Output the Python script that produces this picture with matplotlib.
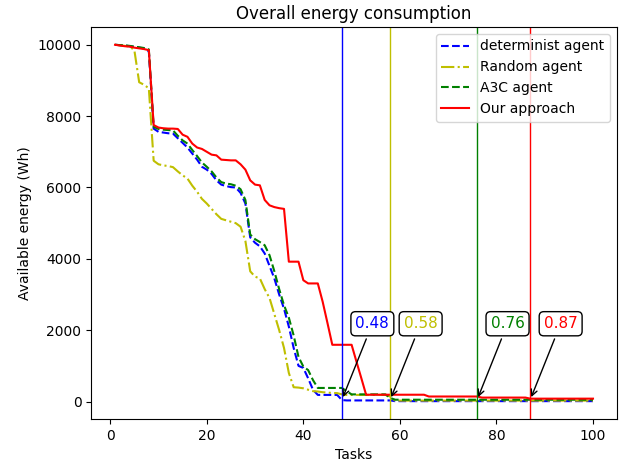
import matplotlib
matplotlib.use("Agg")
import matplotlib.pyplot as plt
import numpy as np

tasks = list(range(1, 101))

determinist = [10000, 9990, 9980, 9960, 9940, 9920, 9900, 9820, 7650, 7560,
               7540, 7520, 7510, 7380, 7250, 7120, 6950, 6780, 6580, 6500,
               6380, 6200, 6080, 6040, 6010, 6000, 5850, 5550, 4600, 4450,
               4350, 4150, 3800, 3450, 3000, 2600, 2100, 1500, 1000, 940,
               650, 330, 185, 185, 185, 185, 185, 40, 30, 30,
               30, 30, 30, 30, 30, 30, 30, 30] + [10] * 42

random_agent = [10000, 9990, 9970, 9950, 9850, 8950, 8880, 8780, 6750, 6650,
                6620, 6600, 6570, 6450, 6340, 6250, 6050, 5880, 5680, 5550,
                5400, 5250, 5120, 5080, 5040, 5000, 4900, 4500, 3650, 3500,
                3450, 3150, 2900, 2450, 2000, 1500, 800, 400, 390, 370,
                330, 290, 280, 260, 250, 240, 235, 200, 185, 185,
                185, 185, 185, 185, 185, 185, 185, 140] + [25] * 42

a3c_agent = [10000, 9990, 9985, 9970, 9950, 9930, 9910, 9870, 7700, 7640,
             7620, 7610, 7600, 7450, 7320, 7230, 7050, 6880, 6700, 6580,
             6450, 6280, 6150, 6110, 6090, 6050, 5950, 5650, 4680, 4550,
             4470, 4380, 4100, 3650, 3150, 2700, 2350, 1850, 1250, 980,
             880, 600, 380, 380, 380, 380, 380, 380, 285, 200,
             200, 200, 200, 200, 200, 200, 200, 100] + [50] * 42

our_approach = [10000, 9980, 9960, 9950, 9920, 9900, 9880, 9850, 7750, 7680,
                7660, 7650, 7650, 7640, 7480, 7420, 7230, 7120, 7080, 7000,
                6920, 6900, 6780, 6770, 6760, 6760, 6650, 6500, 6200, 6080,
                6060, 5650, 5500, 5450, 5420, 5400, 3920, 3920, 3920, 3400,
                3310, 3310, 3310, 2800, 2200, 1590, 1590, 1590, 1590, 1590,
                1120, 660, 190, 190, 190, 190, 190, 190, 190, 190,
                190, 190, 190, 190, 190] + [140] * 11 + [110] * 10 + [80] * 14

marks_x = [48, 58, 76, 87]
marks_label = ["0.48", "0.58", "0.76", "0.87"]
marks_color = ["b", "y", "g", "r"]

fig = plt.figure(figsize=(6.2, 4.65), dpi=100)
ax = fig.add_subplot(111)
fig.subplots_adjust(left=0.147, right=0.995, top=0.942, bottom=0.099)

ax.plot(tasks, determinist, "b--", label="determinist agent")
ax.plot(tasks, random_agent, "y-.", label="Random agent")
ax.plot(tasks, a3c_agent, "g--", label="A3C agent")
ax.plot(tasks, our_approach, "r-", label="Our approach")

for xv, lab, col in zip(marks_x, marks_label, marks_color):
    ax.axvline(xv, color=col, lw=1)
    ax.annotate(lab, xy=(xv, 50), xytext=(xv + 6.3, 2180),
                ha="center", va="center", color=col, fontsize=11,
                bbox=dict(boxstyle="round", fc="white", ec="black"),
                arrowprops=dict(arrowstyle="->", color="black"))

ax.set_title("Overall energy consumption")
ax.set_xlabel("Tasks")
ax.set_ylabel("Available energy (Wh)")
ax.legend(loc="upper right")

fig.savefig("out.png", dpi=100)
